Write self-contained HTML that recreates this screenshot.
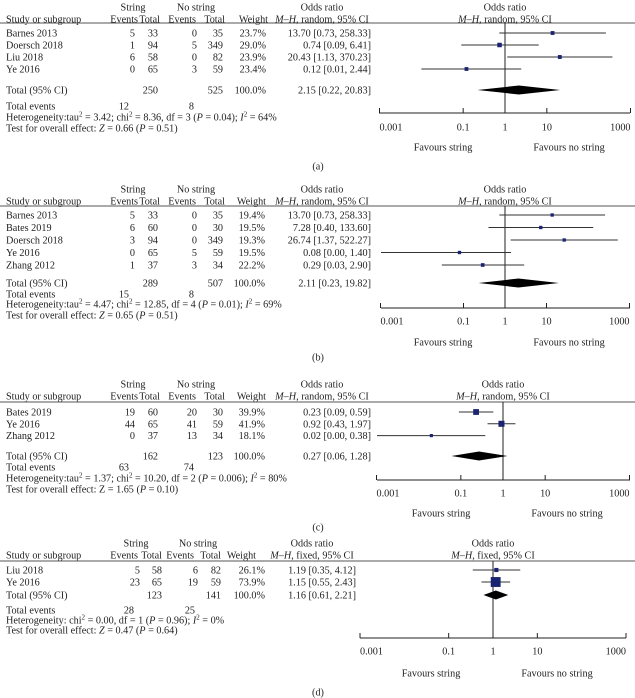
<!DOCTYPE html>
<html><head><meta charset="utf-8"><style>
html,body{margin:0;padding:0;background:#fff;}
svg{display:block;font-family:"Liberation Serif",serif;font-size:10.2px;fill:#222;}
</style></head><body>
<svg id="chart" width="635" height="698" viewBox="0 0 635 698" xmlns="http://www.w3.org/2000/svg"></svg>
<script>
// ---- Panel (a) ----
const aStudies=["Barnes 2013","Doersch 2018","Liu 2018","Ye 2016"];
const aEv1=[5,1,6,0];const aTot1=[33,94,58,65];const aEv2=[0,5,0,3];const aTot2=[35,349,82,59];
const aWeight=[23.7,29.0,23.9,23.4];
const aOR=[13.70,0.74,20.43,0.12];const aLo=[0.73,0.09,1.13,0.01];const aHi=[258.33,6.41,370.23,2.44];
const aTotal=[250,525];const aTotEvents=[12,8];const aPooled=[2.15,0.22,20.83];
// ---- Panel (b) ----
const bStudies=["Barnes 2013","Bates 2019","Doersch 2018","Ye 2016","Zhang 2012"];
const bEv1=[5,6,3,0,1];const bTot1=[33,60,94,65,37];const bEv2=[0,0,0,5,3];const bTot2=[35,30,349,59,34];
const bWeight=[19.4,19.5,19.3,19.5,22.2];
const bOR=[13.70,7.28,26.74,0.08,0.29];const bLo=[0.73,0.40,1.37,0.00,0.03];const bHi=[258.33,133.60,522.27,1.40,2.90];
const bTotal=[289,507];const bTotEvents=[15,8];const bPooled=[2.11,0.23,19.82];
// ---- Panel (c) ----
const cStudies=["Bates 2019","Ye 2016","Zhang 2012"];
const cEv1=[19,44,0];const cTot1=[60,65,37];const cEv2=[20,41,13];const cTot2=[30,59,34];
const cWeight=[39.9,41.9,18.1];
const cOR=[0.23,0.92,0.02];const cLo=[0.09,0.43,0.00];const cHi=[0.59,1.97,0.38];
const cTotal=[162,123];const cTotEvents=[63,74];const cPooled=[0.27,0.06,1.28];
// ---- Panel (d) ----
const dStudies=["Liu 2018","Ye 2016"];
const dEv1=[5,23];const dTot1=[58,65];const dEv2=[6,19];const dTot2=[82,59];
const dWeight=[26.1,73.9];
const dOR=[1.19,1.15];const dLo=[0.35,0.55];const dHi=[4.12,2.43];
const dTotal=[123,141];const dTotEvents=[28,25];const dPooled=[1.16,0.61,2.21];
// ---- Axis ----
const tickValues=[0.001,0.1,1,10,1000];
const tickLabels=["0.001","0.1","1","10","1000"];

const NS="http://www.w3.org/2000/svg";
const svg=document.getElementById('chart');
function mk(tag,attrs,parent){const e=document.createElementNS(NS,tag);for(const k in attrs)e.setAttribute(k,attrs[k]);(parent||svg).appendChild(e);return e;}
function txt(parent,x,y,s,anchor,name){const t=mk('text',{x:x,y:y+3.5,'text-anchor':anchor||'start'},parent);


t.textContent=s;return t;}
function f2(v){return v.toFixed(2);}
const SUP=s=>'<tspan dy="-4" font-size="7">'+s+'</tspan><tspan dy="4">';

const panels=[
 {id:'a',st:aStudies,e1:aEv1,t1:aTot1,e2:aEv2,t2:aTot2,w:aWeight,or:aOR,lo:aLo,hi:aHi,tot:aTotal,te:aTotEvents,pool:aPooled,
  method:'random',L:{h1:7,h2:19,line:23,row0:33,rs:12,total:90,events:106,het:117,test:128,axis:113,ticks:127,fav:147,label:166},
  X:{ax0:379,ax1:630,one:505,ev1:135,tt1:158,ev2:197,tt2:223,wt:266,or:371,hEv1:138,hT1:160,hEv2:196,hT2:225,hW:268,hOR:322,sC:133,nC:196},
  het:'Heterogeneity:tau'+SUP('2')+' = 3.42; chi</tspan>'+SUP('2')+' = 8.36, df = 3 (</tspan><tspan font-style="italic">P</tspan> = 0.04); <tspan font-style="italic">I</tspan>'+SUP('2')+' = 64%</tspan>',
  test:'Test for overall effect: <tspan font-style="italic">Z</tspan> = 0.66 (<tspan font-style="italic">P</tspan> = 0.51)'},
 {id:'b',st:bStudies,e1:bEv1,t1:bTot1,e2:bEv2,t2:bTot2,w:bWeight,or:bOR,lo:bLo,hi:bHi,tot:bTotal,te:bTotEvents,pool:bPooled,
  method:'random',L:{h1:189,h2:201,line:206,row0:215,rs:12.5,total:283,events:294,het:304,test:315,axis:308,ticks:321,fav:342,label:357},
  X:{ax0:381,ax1:630,one:505,ev1:135,tt1:158,ev2:197,tt2:223,wt:265,or:371,hEv1:138,hT1:160,hEv2:196,hT2:225,hW:266,hOR:322,sC:133,nC:196},
  het:'Heterogeneity:tau'+SUP('2')+' = 4.47; chi</tspan>'+SUP('2')+' = 12.85, df = 4 (</tspan><tspan font-style="italic">P</tspan> = 0.01); <tspan font-style="italic">I</tspan>'+SUP('2')+' = 69%</tspan>',
  test:'Test for overall effect: <tspan font-style="italic">Z</tspan> = 0.65 (<tspan font-style="italic">P</tspan> = 0.51)'},
 {id:'c',st:cStudies,e1:cEv1,t1:cTot1,e2:cEv2,t2:cTot2,w:cWeight,or:cOR,lo:cLo,hi:cHi,tot:cTotal,te:cTotEvents,pool:cPooled,
  method:'random',L:{h1:384,h2:396,line:402,row0:412,rs:11.8,total:456,events:467,het:478,test:489,axis:480,ticks:493,fav:513,label:527},
  X:{ax0:377,ax1:630,one:503,ev1:135,tt1:158,ev2:197,tt2:223,wt:265,or:371,hEv1:138,hT1:160,hEv2:196,hT2:225,hW:266,hOR:322,sC:133,nC:196},
  het:'Heterogeneity:tau'+SUP('2')+' = 1.37; chi</tspan>'+SUP('2')+' = 10.20, df = 2 (</tspan><tspan font-style="italic">P</tspan> = 0.006); <tspan font-style="italic">I</tspan>'+SUP('2')+' = 80%</tspan>',
  test:'Test for overall effect: Z = 1.65 (<tspan font-style="italic">P</tspan> = 0.10)'},
 {id:'d',st:dStudies,e1:dEv1,t1:dTot1,e2:dEv2,t2:dTot2,w:dWeight,or:dOR,lo:dLo,hi:dHi,tot:dTotal,te:dTotEvents,pool:dPooled,
  method:'fixed',L:{h1:543,h2:555,line:561,row0:570,rs:12,total:595,events:610,het:620,test:630,axis:638,ticks:651,fav:673,label:692},
  X:{ax0:360,ax1:626,one:493,ev1:140,tt1:162,ev2:198,tt2:221,wt:265,or:356,hEv1:138,hT1:162,hEv2:194,hT2:221,hW:256,hOR:312,sC:136,nC:198},
  het:'Heterogeneity: chi'+SUP('2')+' = 0.00, df = 1 (</tspan><tspan font-style="italic">P</tspan> = 0.96); <tspan font-style="italic">I</tspan>'+SUP('2')+' = 0%</tspan>',
  test:'Test for overall effect: <tspan font-style="italic">Z</tspan> = 0.47 (<tspan font-style="italic">P</tspan> = 0.64)'}
];

panels.forEach(p=>{
 const L=p.L,X=p.X;
 const g=mk('g',{});
 
 
 const dec=(X.ax1-X.ax0)/6;
 const sx=v=>X.one+Math.log10(Math.max(v,1e-6))*dec;
 const clip=v=>Math.min(Math.max(sx(v),X.ax0),X.ax1);
 txt(g,X.sC,L.h1,'String','middle','string-group-header');
 txt(g,X.nC,L.h1,'No string','middle','no-string-group-header');
 txt(g,X.hOR,L.h1,'Odds ratio','middle','odds-ratio-header');
 txt(g,X.one,L.h1,'Odds ratio','middle','plot-odds-ratio-header');
 txt(g,6,L.h2,'Study or subgroup','start','study-column-header');
 txt(g,X.hEv1,L.h2,'Events','end','string-events-header');
 txt(g,X.hT1,L.h2,'Total','end','string-total-header');
 txt(g,X.hEv2,L.h2,'Events','end','no-string-events-header');
 txt(g,X.hT2,L.h2,'Total','end','no-string-total-header');
 txt(g,X.hW,L.h2,'Weight','end','weight-header');
 const mh='<tspan font-style="italic">M–H</tspan>, '+p.method+', 95% CI';
 const t1=txt(g,X.hOR,L.h2,'','middle','method-header');t1.innerHTML=mh;
 const t2=txt(g,X.one,L.h2,'','middle','plot-method-header');t2.innerHTML=mh;
 const hl=mk('line',{x1:0,x2:635,y1:L.line,y2:L.line,stroke:'#555','stroke-width':1},g);
 
 
 const nl=mk('line',{x1:X.one,x2:X.one,y1:L.line,y2:L.axis,stroke:'#222','stroke-width':1},g);
 
 
 p.st.forEach((s,i)=>{
  const y=L.row0+i*L.rs;
  txt(g,6,y,s,'start','study-name');
  txt(g,X.ev1,y,String(p.e1[i]),'end','string-events');
  txt(g,X.tt1,y,String(p.t1[i]),'end','string-total');
  txt(g,X.ev2,y,String(p.e2[i]),'end','no-string-events');
  txt(g,X.tt2,y,String(p.t2[i]),'end','no-string-total');
  txt(g,X.wt,y,p.w[i].toFixed(1)+'%','end','weight-value');
  txt(g,X.or,y,f2(p.or[i])+' ['+f2(p.lo[i])+', '+f2(p.hi[i])+']','end','odds-ratio-ci');
  const ci=mk('line',{x1:clip(p.lo[i]),x2:clip(p.hi[i]),y1:y,y2:y,stroke:'#333','stroke-width':1},g);
  
  
  const sz=1+p.w[i]*0.12;
  const sq=mk('rect',{x:sx(p.or[i])-sz/2,y:y-sz/2,width:sz,height:sz,fill:'#1a2470'},g);
  
  
 });
 txt(g,6,L.total,'Total (95% CI)','start','total-label');
 txt(g,X.tt1,L.total,String(p.tot[0]),'end','string-total-sum');
 txt(g,X.tt2,L.total,String(p.tot[1]),'end','no-string-total-sum');
 txt(g,X.wt,L.total,'100.0%','end','total-weight');
 txt(g,X.or,L.total,f2(p.pool[0])+' ['+f2(p.pool[1])+', '+f2(p.pool[2])+']','end','pooled-odds-ratio');
 const dm=mk('polygon',{points:[sx(p.pool[1])+','+L.total,sx(p.pool[0])+','+(L.total-4.5),sx(p.pool[2])+','+L.total,sx(p.pool[0])+','+(L.total+4.5)].join(' '),fill:'#000'},g);
 
 
 txt(g,6,L.events,'Total events','start','total-events-label');
 txt(g,X.ev1-6,L.events,String(p.te[0]),'end','string-total-events');
 txt(g,X.ev2-3,L.events,String(p.te[1]),'end','no-string-total-events');
 const h=txt(g,6,L.het,'','start','heterogeneity-stats');h.innerHTML=p.het;
 const t=txt(g,6,L.test,'','start','overall-effect-test');t.innerHTML=p.test;
 const ax=mk('line',{x1:X.ax0,x2:X.ax1,y1:L.axis,y2:L.axis,stroke:'#222','stroke-width':1},g);
 
 
 tickValues.forEach((v,i)=>{
  const x=sx(v);
  const tk=mk('line',{x1:x,x2:x,y1:L.axis-5,y2:L.axis,stroke:'#222','stroke-width':1},g);
  
  
  txt(g,x,L.ticks,tickLabels[i],i==0?'start':(i==tickValues.length-1?'end':'middle'),'x-tick-label');
 });
 txt(g,X.one-62,L.fav,'Favours string','middle','favours-string-label');
 txt(g,X.one+64,L.fav,'Favours no string','middle','favours-no-string-label');
 txt(g,318,L.label,'('+p.id+')','middle','panel-label');
});
</script>
</body></html>
